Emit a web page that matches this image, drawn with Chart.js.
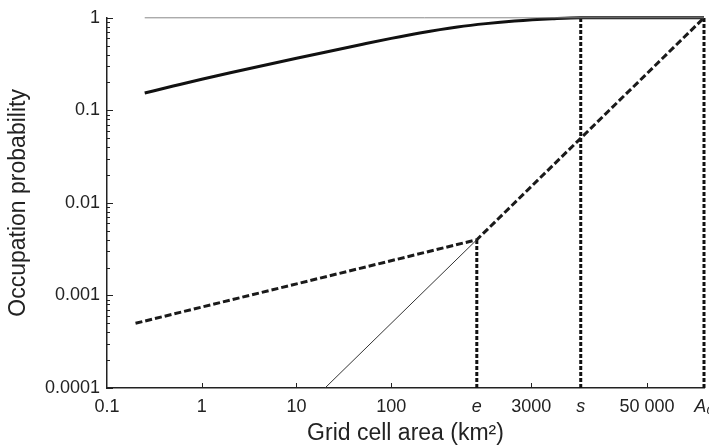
<!DOCTYPE html>
<html>
<head>
<meta charset="utf-8">
<script src="https://cdn.jsdelivr.net/npm/chart.js@4/dist/chart.umd.min.js"></script>
<style>
html, body { margin: 0; padding: 0; background: #fff; overflow: hidden; }
</style>
</head>
<body>
<canvas id="occChart" width="709" height="447"></canvas>
<script>
// grid cell area (km2) and occupation probability
const curveArea = [0.25, 0.5, 1, 2, 5, 10, 20, 50, 100, 200, 500, 1000, 2000, 5000, 10000, 200000];
const curveProb = [0.154, 0.183, 0.217, 0.255, 0.313, 0.365, 0.425, 0.518, 0.599, 0.685, 0.795, 0.865, 0.922, 0.975, 1, 1];

const dashedArea = [0.2, 800, 200000];
const dashedProb = [0.0005, 0.004, 1];

const thinArea = [20, 800];
const thinProb = [0.0001, 0.004];

const refArea = [0.25, 200000];
const refProb = [1, 1];

// e, s and A0 with the top of each dotted line
const markArea = [800, 10000, 200000];
const markTop = [0.004, 1, 1];

const xTickValues = [0.1, 1, 10, 100, 800, 3000, 10000, 50000, 200000];
const xTickLabels = ['0.1', '1', '10', '100', 'e', '3000', 's', '50 000', 'A₀'];
const yTickValues = [0.0001, 0.001, 0.01, 0.1, 1];
const yTickLabels = ['0.0001', '0.001', '0.01', '0.1', '1'];

const FONT = "'Liberation Sans', Arial, sans-serif";
const INK = '#222';

function pts(xs, ys) {
    return xs.map((x, i) => ({ x: x, y: ys[i] }));
}

let datasets = [
    { data: pts(refArea, refProb), borderColor: '#888', borderWidth: 1 },
    { data: pts(thinArea, thinProb), borderColor: '#333', borderWidth: 1 },
    { data: pts(curveArea, curveProb), borderColor: '#111', borderWidth: 3, cubicInterpolationMode: 'monotone' },
    { data: pts(dashedArea, dashedProb), borderColor: '#1a1a1a', borderWidth: 3, borderDash: [7, 3] }
];
markArea.forEach((a, i) => {
    datasets.push({ data: pts([a, a], [0.0001, markTop[i]]), borderColor: '#111', borderWidth: 3, borderDash: [4, 2] });
});
datasets.forEach(d => { d.pointRadius = 0; d.fill = false; d.clip = false; });

// tick marks point inwards, with minor ticks on the y axis
const inwardTicks = {
    id: 'inwardTicks',
    afterDraw(chart) {
        const ctx = chart.ctx;
        const xs = chart.scales.x, ys = chart.scales.y;
        const left = chart.chartArea.left, bottom = chart.chartArea.bottom;
        ctx.save();
        ctx.strokeStyle = INK;
        ctx.lineWidth = 1;
        ctx.beginPath();
        for (let d = -4; d <= 0; d++) {
            for (let m = 1; m <= 9; m++) {
                const v = m * Math.pow(10, d);
                if (v > 1) break;
                const py = Math.round(ys.getPixelForValue(v)) + 0.5;
                ctx.moveTo(left, py);
                ctx.lineTo(left + (m === 1 ? 6 : 3), py);
            }
        }
        [1, 10, 100, 3000, 50000].forEach(v => {
            const px = Math.round(xs.getPixelForValue(v)) + 0.5;
            ctx.moveTo(px, bottom);
            ctx.lineTo(px, bottom - 5);
        });
        ctx.stroke();
        ctx.restore();
    }
};

new Chart(document.getElementById('occChart'), {
    type: 'line',
    data: { datasets: datasets },
    plugins: [inwardTicks],
    options: {
        responsive: false,
        animation: false,
        devicePixelRatio: 1,
        layout: { autoPadding: false, padding: { top: 16, right: 5, bottom: 0, left: 0 } },
        plugins: { legend: { display: false }, tooltip: { enabled: false } },
        scales: {
            x: {
                type: 'logarithmic',
                min: 0.1,
                max: 200000,
                afterBuildTicks: s => { s.ticks = xTickValues.map(v => ({ value: v })); },
                afterFit: s => { s.height = 59; s.paddingLeft = 0; s.paddingRight = 0; },
                grid: { display: false },
                border: { display: true, color: INK, width: 1.5 },
                ticks: {
                    autoSkip: false,
                    maxRotation: 0,
                    padding: 0,
                    color: INK,
                    callback: (v, i) => xTickLabels[i],
                    font: c => ({
                        family: FONT,
                        size: 18,
                        style: ['e', 's', 'A₀'].includes(xTickLabels[c.index]) ? 'italic' : 'normal'
                    })
                },
                title: {
                    display: true,
                    text: 'Grid cell area (km²)',
                    color: INK,
                    font: { family: FONT, size: 23 },
                    padding: { top: 0, bottom: 0 }
                }
            },
            y: {
                type: 'logarithmic',
                min: 0.0001,
                max: 1,
                afterBuildTicks: s => { s.ticks = yTickValues.map(v => ({ value: v })); },
                afterFit: s => { s.width = 107; },
                grid: { display: false, drawTicks: false },
                border: { display: true, color: INK, width: 1.5 },
                ticks: {
                    autoSkip: false,
                    padding: 7,
                    color: INK,
                    callback: (v, i) => yTickLabels[i],
                    font: { family: FONT, size: 18 }
                },
                title: {
                    display: true,
                    text: 'Occupation probability',
                    color: INK,
                    font: { family: FONT, size: 23 },
                    padding: { top: 5, bottom: 0 }
                }
            }
        }
    }
});
</script>
</body>
</html>
